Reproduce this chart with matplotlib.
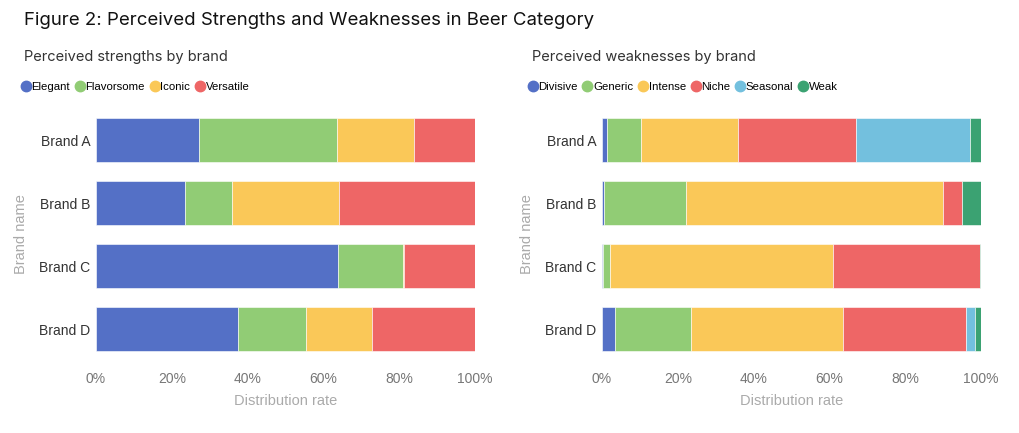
import numpy as np
import matplotlib.pyplot as plt
from matplotlib.lines import Line2D

brands = ['Brand A', 'Brand B', 'Brand C', 'Brand D']

strength_names = ['Elegant', 'Flavorsome', 'Iconic', 'Versatile']
elegant = [27.3, 23.5, 63.9, 37.5]
flavorsome = [36.3, 12.4, 17.0, 17.9]
iconic = [20.3, 28.3, 0.4, 17.3]
versatile = [16.1, 35.8, 18.7, 27.3]

weakness_names = ['Divisive', 'Generic', 'Intense', 'Niche', 'Seasonal', 'Weak']
divisive = [1.4, 0.4, 0.3, 3.3]
generic = [8.9, 21.8, 1.7, 20.3]
intense = [25.7, 67.7, 59.0, 40.1]
niche = [31.0, 5.1, 38.6, 32.3]
seasonal = [30.2, 0.0, 0.2, 2.4]
weak = [2.8, 5.0, 0.2, 1.6]

colors = ['#5470C6', '#91CC75', '#FAC858', '#EE6666', '#73C0DE', '#3BA272']

plt.rcParams['font.family'] = ['Liberation Sans', 'DejaVu Sans']

fig = plt.figure(figsize=(10.2, 4.33), dpi=100)
fig.text(0.024, 0.952, 'Figure 2: Perceived Strengths and Weaknesses in Beer Category',
         fontsize=13.4, family='Inter', color='#111111', va='center')


def stacked(ax, series, names):
    y = np.arange(len(brands))
    left = np.zeros(len(brands))
    for i, vals in enumerate(series):
        vals = np.array(vals)
        ax.barh(y, vals, left=left, height=0.71, color=colors[i],
                edgecolor='white', linewidth=0.4, label=names[i])
        left += vals
    ax.set_ylim(3.5, -0.5)
    ax.set_xlim(0, 100)
    ax.set_yticks(y)
    ax.set_yticklabels(brands, fontsize=10, color='#333333')
    ax.set_xticks(np.arange(0, 101, 20))
    ax.set_xticklabels([f'{v}%' for v in range(0, 101, 20)], fontsize=10, color='#777777')
    ax.tick_params(length=0, pad=4)
    ax.tick_params(axis='x', pad=8)
    for s in ax.spines.values():
        s.set_visible(False)
    ax.set_xlabel('Distribution rate', fontsize=10.5, color='#aaaaaa', labelpad=6)
    ax.set_ylabel('Brand name', fontsize=10.5, color='#aaaaaa', labelpad=8)


def legend_row(x, y, names):
    handles = [Line2D([], [], marker='o', linestyle='', markersize=7.5,
                      color=colors[i]) for i in range(len(names))]
    fig.legend(handles, names, loc='center left', bbox_to_anchor=(x, y),
               ncol=len(names), frameon=False, fontsize=8.2,
               handletextpad=-0.1, columnspacing=0.25, borderaxespad=0,
               handlelength=1.2)


ax1 = fig.add_axes([0.0941, 0.1674, 0.3716, 0.582])
stacked(ax1, [elegant, flavorsome, iconic, versatile], strength_names)
fig.text(0.024, 0.868, 'Perceived strengths by brand', fontsize=10.5,
         family='Inter', color='#333333', va='center')
legend_row(0.014, 0.80, strength_names)

ax2 = fig.add_axes([0.5902, 0.1674, 0.3716, 0.582])
stacked(ax2, [divisive, generic, intense, niche, seasonal, weak], weakness_names)
fig.text(0.522, 0.868, 'Perceived weaknesses by brand', fontsize=10.5,
         family='Inter', color='#333333', va='center')
legend_row(0.511, 0.80, weakness_names)

fig.savefig('out.png', dpi=100)
